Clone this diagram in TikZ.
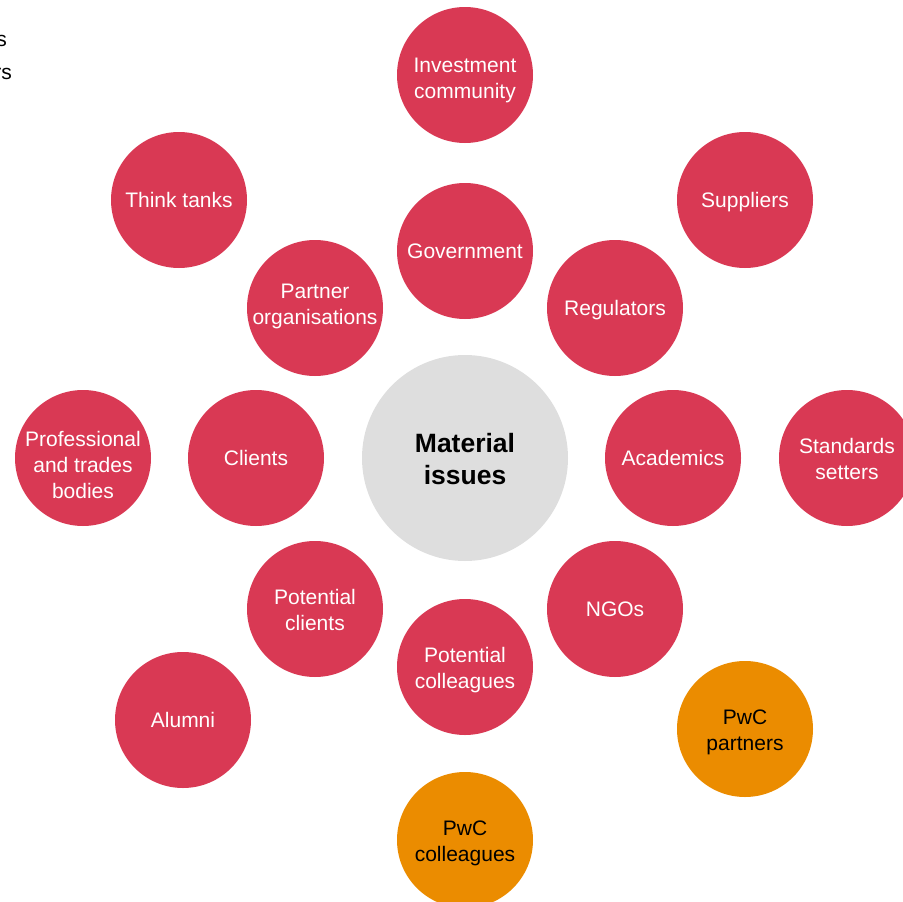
\documentclass[tikz,border=0pt]{standalone}
\usepackage{fontspec}
\setmainfont{Liberation Sans}
\definecolor{pwcrose}{HTML}{D93954}
\definecolor{pwcorange}{HTML}{EB8C00}
\definecolor{pwcgrey}{HTML}{DEDEDE}
\begin{document}
\begin{tikzpicture}[x=1pt,y=-1pt,
  bub/.style={circle, minimum size=136pt, inner sep=0pt, align=center, text height=15pt, text depth=0pt, font=\fontsize{21}{26}\selectfont},
  two/.style={text height=43pt},
  three/.style={text height=81pt, inner sep=-8pt},
  rose/.style={bub, fill=pwcrose, text=white},
  amber/.style={bub, fill=pwcorange, text=black},
  core/.style={circle, minimum size=206pt, inner sep=0pt, align=center, fill=pwcgrey, text height=52pt, text depth=0pt, font=\fontsize{26.5}{31.5}\selectfont\bfseries},
  frag/.style={anchor=east, inner sep=0pt, font=\fontsize{21}{25}\selectfont}]
\useasboundingbox (0,0) rectangle (903,902);
\begin{scope}
\clip (0,0) rectangle (903,902);
\node[core] (mat) at (465,458) {Material\\issues};
\node[rose, two, text height=47pt] (inv) at (465,75) {Investment\\community};
\node[rose] (think) at (179,200) {Think tanks};
\node[rose] (sup) at (745,200) {Suppliers};
\node[rose] (gov) at (465,251) {Government};
\node[rose, two, text height=33pt] (part) at (315,308) {Partner\\organisations};
\node[rose] (reg) at (615,308) {Regulators};
\node[rose, three] (prof) at (83,458) {Professional\\and trades\\bodies};
\node[rose] (cli) at (256,458) {Clients};
\node[rose] (acad) at (673,458) {Academics};
\node[rose, two] (std) at (847,458) {Standards\\setters};
\node[rose, two] (pcli) at (315,609) {Potential\\clients};
\node[rose] (ngo) at (615,609) {NGOs};
\node[rose, two] (pcol) at (465,667) {Potential\\colleagues};
\node[rose] (alum) at (183,720) {Alumni};
\node[amber, two] (ppart) at (745,729) {PwC\\partners};
\node[amber, two] (pcolg) at (465,840) {PwC\\colleagues};
\node[frag] (f1) at (7,41) {s};
\node[frag] (f2) at (12,74) {rs};
\end{scope}
\end{tikzpicture}
\end{document}
